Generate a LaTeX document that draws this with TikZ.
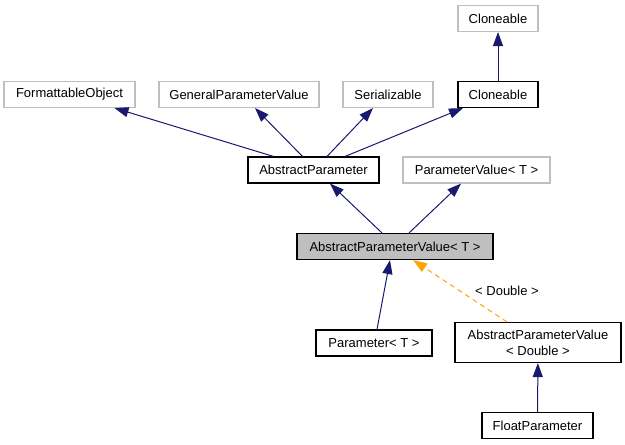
\documentclass[tikz,border=0pt]{standalone}
\usepackage{fontspec}
\setmainfont{Liberation Sans}
\usetikzlibrary{arrows.meta}

\definecolor{edgeblue}{HTML}{191970}
\definecolor{boxgray}{HTML}{BFBFBF}
\definecolor{tmplorange}{HTML}{FFA500}

\tikzset{
  cls/.style={draw=black, line width=1.1bp, minimum height=26bp, inner sep=0pt,
    font=\fontsize{13bp}{16bp}\selectfont, align=center},
  extcls/.style={cls, draw=boxgray},
  maincls/.style={cls, fill=boxgray},
  inherit/.style={draw=edgeblue, line width=1bp, -{Triangle[length=14bp,width=10bp]}},
  tmpl/.style={draw=tmplorange, line width=1bp, dash pattern=on 5bp off 4bp,
    -{Triangle[length=14bp,width=10bp]}},
}

\begin{document}
\begin{tikzpicture}[x=1bp, y=-1bp]
        \useasboundingbox (0,0) rectangle (625,445);

        % top row
        \node[extcls, minimum width=80bp] (cloneTop) at (498,18.5) {Cloneable};

        % interfaces of AbstractParameter
        \node[extcls, minimum width=131bp] (formattable) at (69.5,94.5) {FormattableObject};
        \node[extcls, minimum width=160bp] (genParamValue) at (239,94.5) {GeneralParameterValue};
        \node[extcls, minimum width=90bp] (serializable) at (388,94.5) {Serializable};
        \node[cls, minimum width=80bp] (cloneable) at (498,94.5) {Cloneable};

        % parents of AbstractParameterValue
        \node[cls, minimum width=131bp] (absParam) at (313.5,170) {AbstractParameter};
        \node[extcls, minimum width=147bp] (paramValue) at (476.5,170) {ParameterValue< T >};

        % the class itself
        \node[maincls, minimum width=196bp] (absParamValue) at (395,246.5) {AbstractParameterValue< T >};

        % subclasses
        \node[cls, minimum width=116bp] (parameter) at (374,343) {Parameter< T >};
        \node[cls, minimum width=166bp, minimum height=40bp] (absParamValueD) at (538,342.5)
            {AbstractParameterValue\\< Double >};
        \node[cls, minimum width=111bp] (floatParam) at (537.5,425.5) {FloatParameter};

        % inheritance
        \draw[inherit] (cloneable) -- (cloneTop);
        \draw[inherit] ([xshift=-40bp]absParam.north) -- ([xshift=45bp]formattable.south);
        \draw[inherit] ([xshift=-11bp]absParam.north) -- ([xshift=16bp]genParamValue.south);
        \draw[inherit] ([xshift=13.5bp]absParam.north) -- ([xshift=-15bp]serializable.south);
        \draw[inherit] ([xshift=31.5bp]absParam.north) -- ([xshift=-35bp]cloneable.south);
        \draw[inherit] ([xshift=-13bp]absParamValue.north) -- ([xshift=16.5bp]absParam.south);
        \draw[inherit] ([xshift=14bp]absParamValue.north) -- ([xshift=-15.5bp]paramValue.south);
        \draw[inherit] ([xshift=3bp]parameter.north) -- ([xshift=-5bp]absParamValue.south);
        \draw[inherit] (floatParam) -- (absParamValueD);

        % template instance
        \draw[tmpl] ([xshift=-31bp]absParamValueD.north) -- ([xshift=18bp]absParamValue.south);
        \node[font=\fontsize{13bp}{16bp}\selectfont] (lblDouble) at (507,291) {< Double >};
    \end{tikzpicture}
\end{document}
